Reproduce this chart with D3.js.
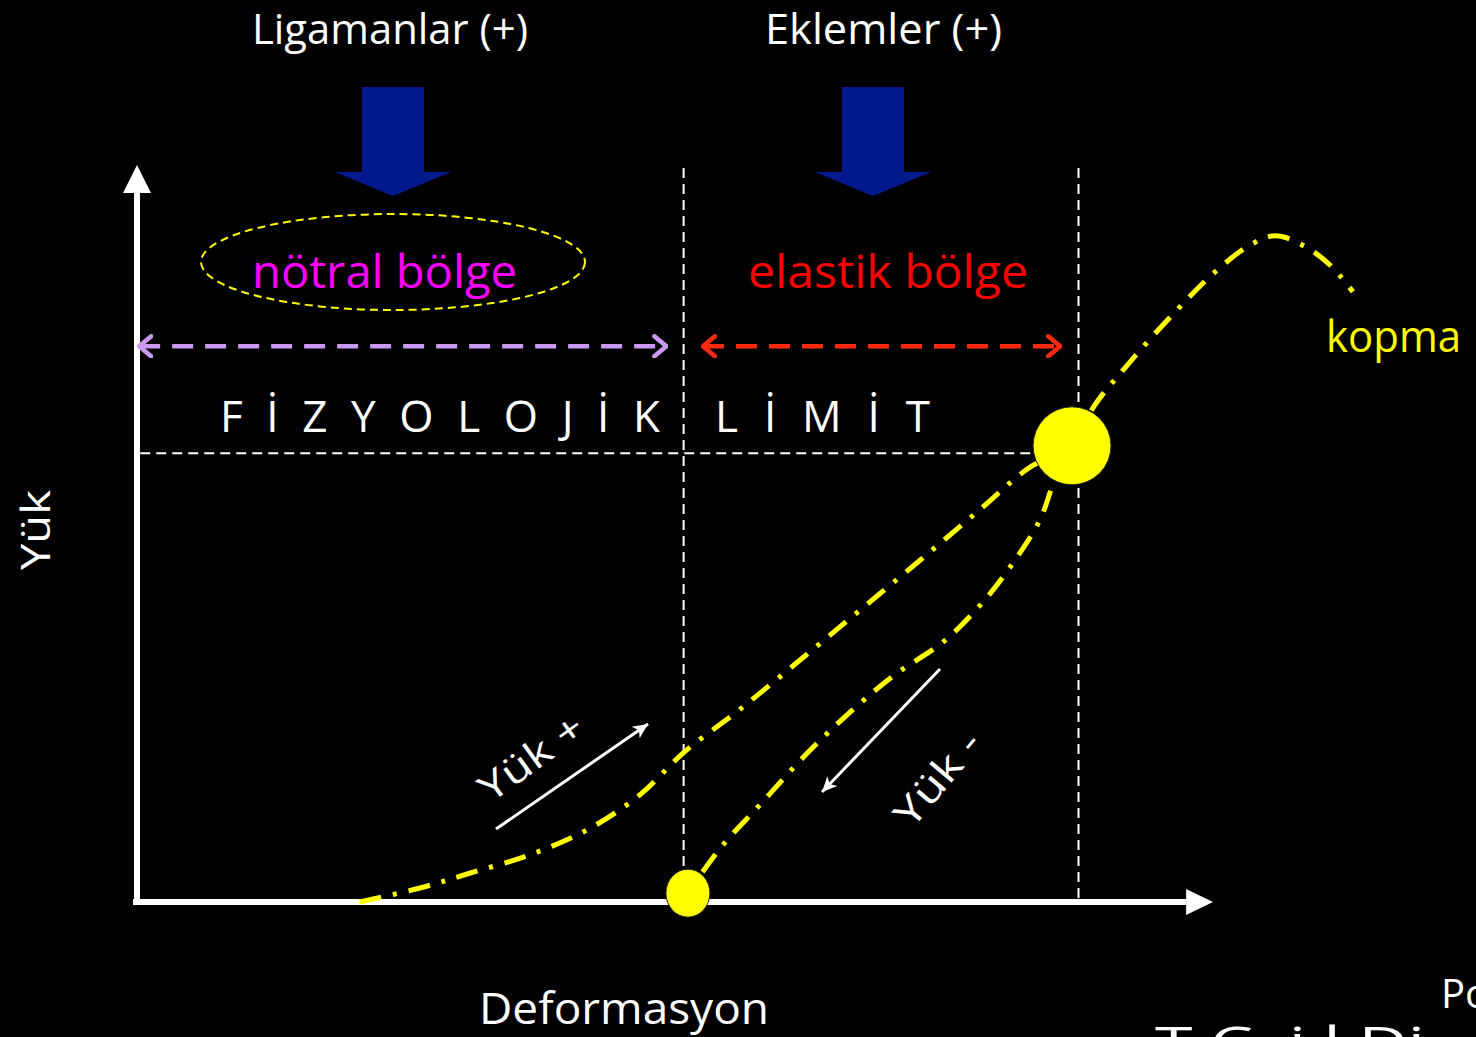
<!DOCTYPE html>
<html>
<head>
<meta charset="utf-8">
<script src="https://cdn.jsdelivr.net/npm/d3@7"></script>
<style>
  html, body { margin: 0; padding: 0; background: #000; overflow: hidden; }
  svg { display: block; }
  text { font-family: "Comic Sans MS", "Open Sans", "DejaVu Sans", sans-serif; }
</style>
</head>
<body>
<script>
// ---------- data (deformation %, load %) ----------
const loadingX = [20.7, 26.3, 30.9, 36.5, 42.1, 46.7, 50.9, 56.0, 61.6, 67.2, 72.8, 78.3, 83.0, 86.9, 89.0, 92.3, 96.5, 100.2, 103.4, 105.8, 108.6, 110.9, 113.0];
const loadingY = [0, 1.9, 3.9, 6.4, 10.0, 14.5, 20.4, 26.1, 32.8, 39.6, 46.4, 53.2, 59.0, 61.9, 67.4, 73.3, 80.1, 85.5, 89.1, 90.4, 88.9, 86.4, 82.8];
const unloadingX = [86.9, 85.3, 83.9, 81.6, 78.8, 75.1, 70.4, 66.3, 62.1, 57.9, 54.2, 51.2];
const unloadingY = [61.9, 57.3, 51.8, 46.4, 41.0, 35.5, 30.8, 25.8, 19.9, 13.2, 7.3, 1.2];
const regionBounds = [50.8, 87.5];          // neutral | elastic | beyond
const physioLimit = 60.9;                    // physiological limit (load)
const limitPoint = [86.9, 61.9];             // big dot
const originPoint = [51.2, 1.2];             // small dot
const topLabels = ["Ligamanlar (+)", "Eklemler (+)"];
const regionLabels = ["nötral bölge", "elastik bölge"];
const limitWords = ["FİZYOLOJİK", "LİMİT"];
const axisLabels = ["Deformasyon", "Yük"];
const ruptureLabel = "kopma";
const loadLabels = ["Yük +", "Yük -"];
const footerLabels = ["Po", "T.C.  i  l Di"];

// ---------- setup ----------
const W = 1476, H = 1037;
const svg = d3.select("body").append("svg").attr("width", W).attr("height", H);
svg.append("rect").attr("width", W).attr("height", H).attr("fill", "#000");

const x = d3.scaleLinear().domain([0, 100]).range([137, 1213]);
const y = d3.scaleLinear().domain([0, 100]).range([902, 165]);

const defs = svg.append("defs");
function chevron(id, color) {
  defs.append("marker").attr("id", id).attr("viewBox", "-14 -12 16 24")
    .attr("markerWidth", 16).attr("markerHeight", 24).attr("markerUnits", "userSpaceOnUse")
    .attr("refX", 0).attr("refY", 0).attr("orient", "auto-start-reverse")
    .append("path").attr("d", "M-12,-10 L0,0 L-12,10").attr("fill", "none")
    .attr("stroke", color).attr("stroke-width", 4.5).attr("stroke-linecap", "round").attr("stroke-linejoin", "round");
}
chevron("chevPurple", "#cc99f2");
chevron("chevRed", "#ff2a10");
defs.append("marker").attr("id", "whiteHead").attr("viewBox", "-16 -8 18 16")
  .attr("markerWidth", 18).attr("markerHeight", 16).attr("markerUnits", "userSpaceOnUse")
  .attr("refX", 0).attr("refY", 0).attr("orient", "auto")
  .append("path").attr("d", "M-15,-7 L0,0 L-15,7 L-11,0 Z").attr("fill", "#fff");

// ---------- guide lines ----------
regionBounds.forEach(b => {
  svg.append("line").attr("x1", x(b)).attr("x2", x(b)).attr("y1", y(99.6)).attr("y2", y(0))
    .attr("stroke", "#fff").attr("stroke-width", 2).attr("stroke-dasharray", "10,6");
});
svg.append("line").attr("x1", x(0.3)).attr("x2", x(83.5)).attr("y1", y(physioLimit)).attr("y2", y(physioLimit))
  .attr("stroke", "#fff").attr("stroke-width", 2).attr("stroke-dasharray", "10,6");

// ---------- axes ----------
svg.append("line").attr("x1", x(0)).attr("x2", x(0)).attr("y1", y(0) + 3).attr("y2", y(97))
  .attr("stroke", "#fff").attr("stroke-width", 6);
svg.append("path").attr("d", `M${x(0) - 14},${y(96.2)} L${x(0)},${y(100)} L${x(0) + 14},${y(96.2)} Z`).attr("fill", "#fff");
svg.append("line").attr("x1", x(0) - 4).attr("x2", x(97.5)).attr("y1", y(0)).attr("y2", y(0))
  .attr("stroke", "#fff").attr("stroke-width", 6);
svg.append("path").attr("d", `M${x(97.5)},${y(0) - 13} L${x(100)},${y(0)} L${x(97.5)},${y(0) + 13} Z`).attr("fill", "#fff");

// ---------- curves ----------
const line = d3.line().x(d => x(d[0])).y(d => y(d[1])).curve(d3.curveCatmullRom.alpha(0.5));
const loading = loadingX.map((v, i) => [v, loadingY[i]]);
const unloading = unloadingX.map((v, i) => [v, unloadingY[i]]);
[loading, unloading].forEach(pts => {
  svg.append("path").attr("d", line(pts)).attr("fill", "none")
    .attr("stroke", "#ffff00").attr("stroke-width", 5).attr("stroke-dasharray", "22,12,4,12");
});

// ---------- dots ----------
svg.append("ellipse").attr("cx", x(originPoint[0])).attr("cy", y(originPoint[1]))
  .attr("rx", 22).attr("ry", 24).attr("fill", "#ffff00").attr("stroke", "#222").attr("stroke-width", 1);
svg.append("circle").attr("cx", x(limitPoint[0])).attr("cy", y(limitPoint[1]))
  .attr("r", 39).attr("fill", "#ffff00").attr("stroke", "#222").attr("stroke-width", 1);

// ---------- region arrows ----------
svg.append("line").attr("x1", x(0.2)).attr("x2", x(49.2)).attr("y1", y(75.4)).attr("y2", y(75.4))
  .attr("stroke", "#cc99f2").attr("stroke-width", 4.5).attr("stroke-dasharray", "21,12")
  .attr("marker-start", "url(#chevPurple)").attr("marker-end", "url(#chevPurple)");
svg.append("line").attr("x1", x(52.6)).attr("x2", x(85.8)).attr("y1", y(75.4)).attr("y2", y(75.4))
  .attr("stroke", "#ff2a10").attr("stroke-width", 4.5).attr("stroke-dasharray", "21,12")
  .attr("marker-start", "url(#chevRed)").attr("marker-end", "url(#chevRed)");

// ---------- blue arrows ----------
[393, 873].forEach(cx => {
  svg.append("path").attr("d",
    `M${cx - 31},87 L${cx + 31},87 L${cx + 31},172 L${cx + 58},172 L${cx},196 L${cx - 58},172 L${cx - 31},172 Z`)
    .attr("fill", "#021a8e");
});

// ---------- ellipse around neutral zone ----------
svg.append("ellipse").attr("cx", 393).attr("cy", 262).attr("rx", 192).attr("ry", 48)
  .attr("fill", "none").attr("stroke", "#ffff00").attr("stroke-width", 2).attr("stroke-dasharray", "8,5");

// ---------- text ----------
function txt(s, px, py, size, color, len, anchor = "start") {
  const t = svg.append("text").attr("x", px).attr("y", py).attr("font-size", size)
    .attr("fill", color).attr("text-anchor", anchor).text(s);
  if (len) t.attr("textLength", len).attr("lengthAdjust", "spacingAndGlyphs");
  return t;
}
txt(topLabels[0], 252, 44, 42, "#fff", 276);
txt(topLabels[1], 765, 44, 42, "#fff", 237);
txt(regionLabels[0], 252, 288, 46, "#ff00ff", 265);
txt(regionLabels[1], 748, 288, 46, "#ff0000", 280);
svg.append("text").attr("x", 220).attr("y", 432).attr("font-size", 44).attr("fill", "#fff")
  .attr("textLength", 440).attr("lengthAdjust", "spacing").text(limitWords[0]);
svg.append("text").attr("x", 715).attr("y", 432).attr("font-size", 44).attr("fill", "#fff")
  .attr("textLength", 215).attr("lengthAdjust", "spacing").text(limitWords[1]);
txt(ruptureLabel, 1326, 352, 44, "#ffff00", 135);
txt(axisLabels[0], 479, 1024, 44, "#fff", 290);
svg.append("text").attr("transform", "translate(50,570) rotate(-90)").attr("font-size", 40)
  .attr("fill", "#fff").attr("textLength", 80).attr("lengthAdjust", "spacingAndGlyphs").text(axisLabels[1]);
svg.append("text").attr("transform", "translate(531,757) rotate(-36)").attr("text-anchor", "middle")
  .attr("dy", 14).attr("font-size", 38).attr("fill", "#fff")
  .attr("textLength", 120).attr("lengthAdjust", "spacingAndGlyphs").text(loadLabels[0]);
svg.append("text").attr("transform", "translate(937,778) rotate(-50)").attr("text-anchor", "middle")
  .attr("dy", 14).attr("font-size", 38).attr("fill", "#fff")
  .attr("textLength", 112).attr("lengthAdjust", "spacingAndGlyphs").text(loadLabels[1]);
txt(footerLabels[0], 1441, 1008, 40, "#fff");
txt(footerLabels[1], 1155, 1058, 44, "#fff", 270);

// ---------- load direction arrows ----------
svg.append("line").attr("x1", 496).attr("y1", 829).attr("x2", 648).attr("y2", 724)
  .attr("stroke", "#fff").attr("stroke-width", 3).attr("marker-end", "url(#whiteHead)");
svg.append("line").attr("x1", 940).attr("y1", 669).attr("x2", 822).attr("y2", 792)
  .attr("stroke", "#fff").attr("stroke-width", 3).attr("marker-end", "url(#whiteHead)");
</script>
</body>
</html>
